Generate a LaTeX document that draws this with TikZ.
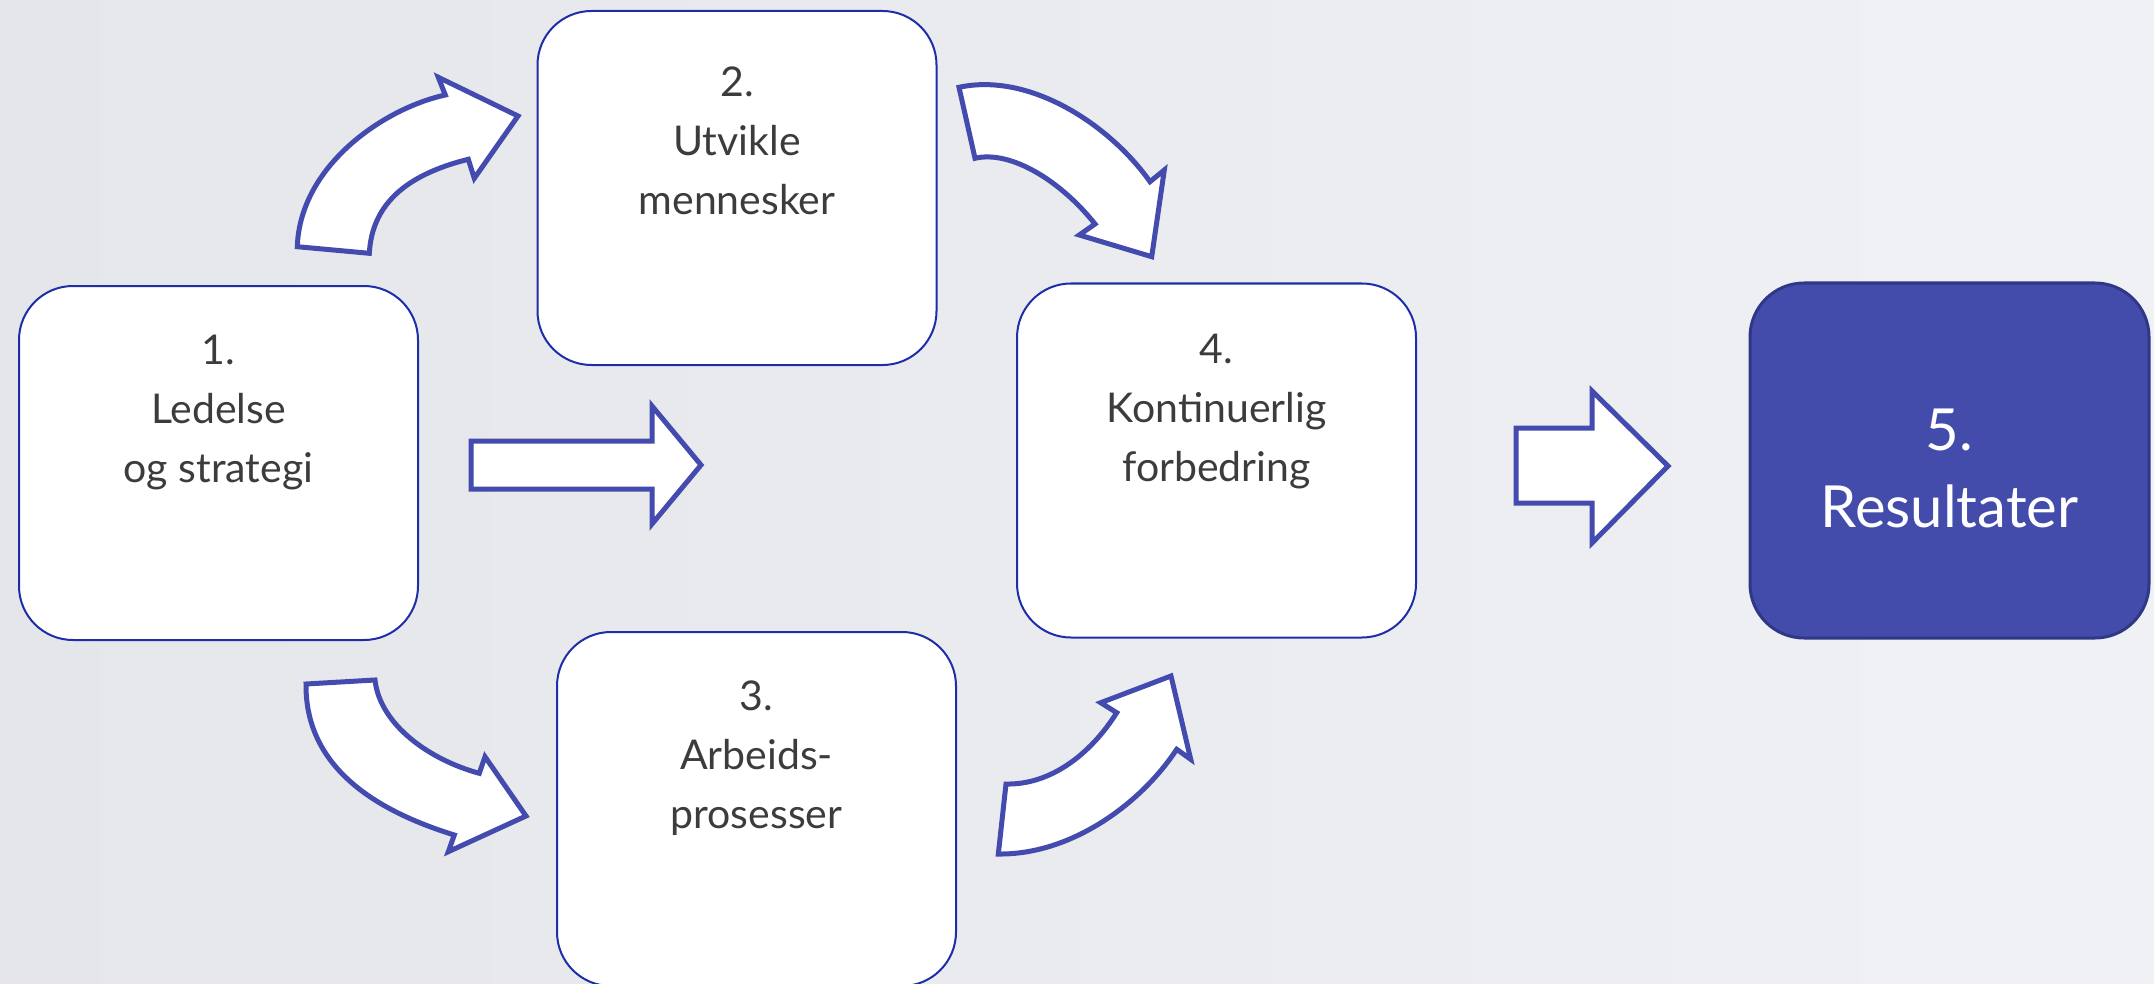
\documentclass[tikz,border=0pt]{standalone}
\usepackage{fontspec}
\setmainfont{Lato}
\definecolor{bgA}{HTML}{E4E6EA}
\definecolor{bgB}{HTML}{F0F1F4}
\definecolor{boxline}{HTML}{1E2EA8}
\definecolor{arrline}{HTML}{444BAE}
\definecolor{resfill}{HTML}{434BAB}
\definecolor{resline}{HTML}{2E3886}
\definecolor{txt}{HTML}{3C3C3C}
\tikzset{
  stepbox/.style={draw=boxline, line width=2pt, fill=white, rounded corners=54pt,
    minimum width=399pt, minimum height=354pt, inner sep=0pt},
  resbox/.style={draw=resline, line width=3pt, fill=resfill, rounded corners=54pt,
    minimum width=399pt, minimum height=355pt, inner sep=0pt},
  steptext/.style={text=txt, align=center, font=\fontsize{41}{59}\selectfont, inner sep=0pt},
  restext/.style={text=white, align=center, font=\fontsize{58}{77}\selectfont, inner sep=0pt},
  bigarrow/.style={draw=arrline, line width=5pt, fill=white, line join=miter}
}
\begin{document}
\begin{tikzpicture}[x=1pt,y=-1pt]
\useasboundingbox (0,0) rectangle (2154,984);
\clip (0,0) rectangle (2154,984);
\shade[left color=bgA, right color=bgB] (0,0) rectangle (2154,984);

% boxes
\node[stepbox] (b1) at (218.5,463) {};
\node[stepbox] (b2) at (737,188) {};
\node[stepbox] (b3) at (756.5,809) {};
\node[stepbox] (b4) at (1216.5,460.5) {};
\node[resbox]  (b5) at (1949.5,460.5) {};

% texts
\node[steptext] (t1) at (218.5,413) {1.\\Ledelse\\og strategi};
\node[steptext] (t2) at (737,141) {2.\\Utvikle\\mennesker};
\node[steptext] (t3) at (756.5,758) {3.\\Arbeids-\\prosesser};
\node[steptext] (t4) at (1216.5,412) {4.\\Kontinuerlig\\forbedring};
\node[restext]  (t5) at (1949.5,468) {5.\\Resultater};

% straight arrows
\draw[bigarrow] (471,441) -- (652,441) -- (652,406) -- (701,465) -- (652,524) -- (652,489) -- (471,489) -- cycle;
\draw[bigarrow] (1516,428) -- (1592,428) -- (1592,391) -- (1668,466) -- (1592,543) -- (1592,503) -- (1516,503) -- cycle;

% curved arrow 1 -> 2
\draw[bigarrow] (297.3,246.7) -- (369.3,253.3)
  .. controls (372,205) and (405,175) .. (468.3,159.3)
  -- (474.3,178.3) -- (518,116) -- (438.3,77.3) -- (445.3,95)
  .. controls (385,108) and (300,165) .. (297.3,246.7) -- cycle;
% curved arrow 2 -> 4
\draw[bigarrow] (959,87.3) -- (975,158.3)
  .. controls (1010,150) and (1060,180) .. (1095,224)
  -- (1079.3,235) -- (1151.7,256.7) -- (1164.3,170) -- (1150,181.7)
  .. controls (1110,125) and (1030,72) .. (959,87.3) -- cycle;
% curved arrow 1 -> 3
\draw[bigarrow] (306,684) -- (375,680)
  .. controls (380,725) and (430,760) .. (479.3,773.3)
  -- (485,756.7) -- (526,816) -- (448.3,851.7) -- (454.3,835)
  .. controls (390,815) and (305,775) .. (306,684) -- cycle;
% curved arrow 3 -> 4
\draw[bigarrow] (998.3,854) -- (1006,784)
  .. controls (1050,785) and (1090,755) .. (1116.7,712.7)
  -- (1100.7,702.7) -- (1171,676) -- (1190.7,759.3) -- (1176.7,749.3)
  .. controls (1140,805) and (1070,855) .. (998.3,854) -- cycle;
\end{tikzpicture}
\end{document}
